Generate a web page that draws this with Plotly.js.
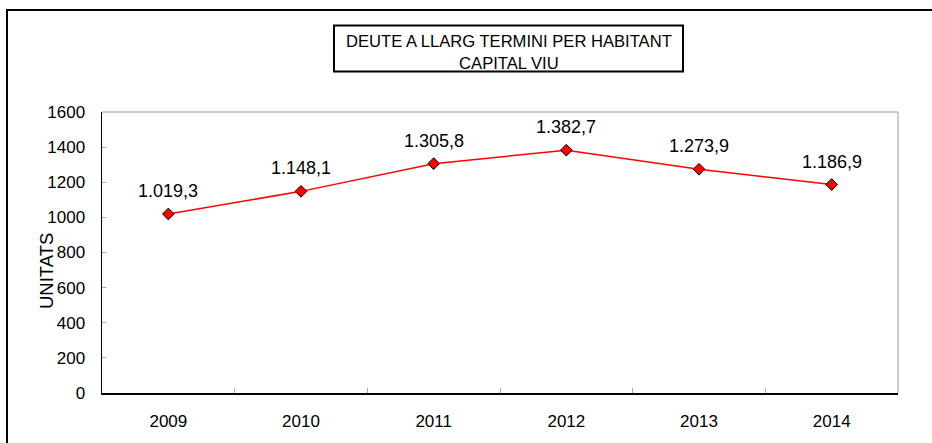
<!DOCTYPE html>
<html>
<head>
<meta charset="utf-8">
<script src="https://cdn.plot.ly/plotly-3.0.1.min.js"></script>
<style>
html,body{margin:0;padding:0;background:#fff;}
#chart{width:932px;height:443px;}
</style>
</head>
<body>
<div id="chart"></div>
<script>
var years = ["2009", "2010", "2011", "2012", "2013", "2014"];
var values = [1019.3, 1148.1, 1305.8, 1382.7, 1273.9, 1186.9];
var yTicks = [0, 200, 400, 600, 800, 1000, 1200, 1400, 1600];
var titleLines = ["DEUTE A LLARG TERMINI PER HABITANT", "CAPITAL VIU"];
var yTitle = "UNITATS";

function fmt(v) {
  var parts = v.toFixed(1).split(".");
  var intPart = parts[0].replace(/\B(?=(\d{3})+(?!\d))/g, ".");
  return intPart + "," + parts[1];
}

var L = 102, R = 898, T = 112, B = 393, W = 932, H = 443;
function px(x) { return (x - L) / (R - L); }
function py(y) { return (B - y) / (B - T); }

var font = "Liberation Sans, Arial, sans-serif";

var trace = {
  x: years,
  y: values,
  type: "scatter",
  mode: "lines+markers",
  line: {color: "#ff0000", width: 1.5},
  marker: {symbol: "diamond", size: 9, color: "#ff0000", line: {color: "#000000", width: 1}},
  hoverinfo: "skip",
  cliponaxis: false
};

var annotations = years.map(function (yr, i) {
  return {
    x: i, y: values[i], xref: "x", yref: "y",
    text: fmt(values[i]), showarrow: false,
    yanchor: "middle", xanchor: "center", yshift: 23,
    font: {family: font, size: 18, color: "#000"}
  };
});

annotations.push({
  xref: "paper", yref: "paper",
  x: px(508.5), y: py(53), xanchor: "center", yanchor: "middle",
  text: titleLines.join("<br>"), showarrow: false,
  font: {family: font, size: 16.6, color: "#000"}
});

annotations.push({
  xref: "paper", yref: "paper",
  x: px(46), y: py(271), xanchor: "center", yanchor: "middle",
  text: yTitle, textangle: -90, showarrow: false,
  font: {family: font, size: 18.5, color: "#000"}
});

var shapes = [
  {type: "rect", xref: "paper", yref: "paper", x0: px(7), y0: py(470), x1: px(960), y1: py(10),
   line: {color: "#000", width: 2}, fillcolor: "rgba(0,0,0,0)", layer: "below"},
  {type: "rect", xref: "paper", yref: "paper", x0: px(334), y0: py(71.5), x1: px(683), y1: py(25.5),
   line: {color: "#000", width: 2}, fillcolor: "rgba(0,0,0,0)"},
  {type: "line", xref: "paper", yref: "paper", x0: 0, x1: 1, y0: 1, y1: 1,
   line: {color: "#999", width: 1}, layer: "below"},
  {type: "line", xref: "paper", yref: "paper", x0: 1, x1: 1, y0: 0, y1: 1,
   line: {color: "#999", width: 1}, layer: "below"}
];

var layout = {
  width: W, height: H,
  margin: {l: L, r: W - R, t: T, b: H - B, pad: 0},
  paper_bgcolor: "#fff", plot_bgcolor: "#fff",
  showlegend: false,
  font: {family: font, color: "#000"},
  xaxis: {
    type: "category",
    range: [-0.5, years.length - 0.5],
    showgrid: false, zeroline: false,
    showline: true, linecolor: "#000", linewidth: 1.5,
    ticks: "inside", tickson: "boundaries", ticklen: 5, tickcolor: "#aaa", tickwidth: 1,
    tickfont: {family: font, size: 17, color: "#000"},
    ticklabelstandoff: 12,
    fixedrange: true
  },
  yaxis: {
    range: [0, 1600],
    tickvals: yTicks,
    ticktext: yTicks.map(String),
    showgrid: false, zeroline: false,
    showline: true, linecolor: "#000", linewidth: 1.5,
    ticks: "inside", ticklen: 4, tickcolor: "#aaa", tickwidth: 1,
    tickfont: {family: font, size: 17, color: "#000"},
    ticklabelstandoff: 12,
    fixedrange: true
  },
  annotations: annotations,
  shapes: shapes
};

Plotly.newPlot("chart", [trace], layout, {displayModeBar: false, staticPlot: true});
</script>
</body>
</html>
